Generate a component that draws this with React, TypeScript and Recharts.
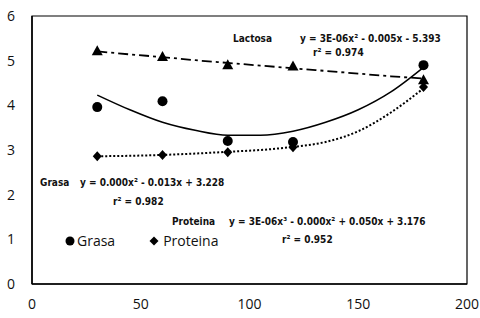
import React from 'react';
import {
  ComposedChart, Scatter, Line, XAxis, YAxis, ReferenceArea,
} from 'recharts';

// days of storage
const days = [30, 60, 90, 120, 180];

// measured values (%)
const grasa = [3.96, 4.09, 3.2, 3.18, 4.9];
const proteina = [2.86, 2.89, 2.95, 3.06, 4.41];
const lactosa = [5.21, 5.08, 4.9, 4.87, 4.56];

// trend lines
const trendX = [30, 45, 60, 75, 90, 105, 120, 135, 150, 165, 180];
const grasaTrend = [4.23, 3.9, 3.62, 3.44, 3.33, 3.33, 3.42, 3.62, 3.9, 4.3, 4.85];
const proteinaTrend = [2.86, 2.87, 2.89, 2.92, 2.96, 3.0, 3.07, 3.18, 3.42, 3.84, 4.38];
const lactosaTrend = [5.21, 5.14, 5.08, 5.01, 4.95, 4.89, 4.83, 4.77, 4.71, 4.65, 4.6];

const xTicks = [0, 50, 100, 150, 200];
const yTicks = [0, 1, 2, 3, 4, 5, 6];

const toPoints = (xs: number[], ys: number[]) => xs.map((x, i) => ({ x, y: ys[i] }));

const noteStyle: React.CSSProperties = {
  position: 'absolute',
  fontFamily: '"DejaVu Sans Condensed", "DejaVu Sans", sans-serif',
  fontWeight: 'bold',
  fontSize: 10,
  color: '#111',
  whiteSpace: 'nowrap',
  lineHeight: '12px',
};

function Note({ left, top, children }: { left: number; top: number; children: React.ReactNode }) {
  return <div style={{ ...noteStyle, left, top }}>{children}</div>;
}

const Dot = (p: any) => <circle cx={p.cx} cy={p.cy} r={5} fill="#000" />;
const Diamond = (p: any) => (
  <polygon points={`${p.cx},${p.cy - 5} ${p.cx + 4.5},${p.cy} ${p.cx},${p.cy + 5} ${p.cx - 4.5},${p.cy}`} fill="#000" />
);
const Tri = (p: any) => (
  <polygon points={`${p.cx},${p.cy - 6} ${p.cx + 5.5},${p.cy + 4} ${p.cx - 5.5},${p.cy + 4}`} fill="#000" />
);

function LegendBox() {
  return (
    <div style={{ position: 'absolute', left: 65, top: 231, display: 'flex', alignItems: 'center', fontFamily: '"Open Sans", sans-serif', fontSize: 14, color: '#111' }}>
      <svg width={10} height={10} style={{ marginRight: 2 }}>
        <circle cx={5} cy={5} r={4.5} fill="#000" />
      </svg>
      <span>Grasa</span>
      <svg width={10} height={10} style={{ marginLeft: 34, marginRight: 4 }}>
        <polygon points="5,0.5 9.5,5 5,9.5 0.5,5" fill="#000" />
      </svg>
      <span>Proteina</span>
    </div>
  );
}

export default function App() {
  return (
    <div style={{ position: 'absolute', left: 0, top: 0, width: 480, height: 318, background: '#fff' }}>
      <ComposedChart width={480} height={318} margin={{ top: 16, right: 13, bottom: 0, left: 0 }}>
        <XAxis
          type="number"
          dataKey="x"
          domain={[0, 200]}
          ticks={xTicks}
          tickLine={false}
          axisLine={{ stroke: '#000', strokeWidth: 1.5 }}
          height={34}
          tickMargin={9}
          tick={{ fill: '#111', fontSize: 14, fontFamily: '"Open Sans", sans-serif' }}
        />
        <YAxis
          type="number"
          dataKey="y"
          domain={[0, 6]}
          ticks={yTicks}
          tickLine={false}
          axisLine={{ stroke: '#000', strokeWidth: 1.5 }}
          width={32}
          tickMargin={11}
          tick={{ fill: '#111', fontSize: 14, fontFamily: '"Open Sans", sans-serif' }}
        />
        <ReferenceArea x1={0} x2={200} y1={0} y2={6} fill="none" stroke="#000" strokeWidth={1.2} />
        <Line data={toPoints(trendX, grasaTrend)} dataKey="y" type="monotone" stroke="#000" strokeWidth={1.5} dot={false} isAnimationActive={false} />
        <Line data={toPoints(trendX, proteinaTrend)} dataKey="y" type="monotone" stroke="#000" strokeWidth={2} strokeDasharray="2 2" dot={false} isAnimationActive={false} />
        <Line data={toPoints(trendX, lactosaTrend)} dataKey="y" type="monotone" stroke="#000" strokeWidth={1.8} strokeDasharray="10 4 3 4" dot={false} isAnimationActive={false} />
        <Scatter name="Grasa" data={toPoints(days, grasa)} shape={Dot} isAnimationActive={false} />
        <Scatter name="Proteina" data={toPoints(days, proteina)} shape={Diamond} isAnimationActive={false} />
        <Scatter name="Lactosa" data={toPoints(days, lactosa)} shape={Tri} isAnimationActive={false} />
      </ComposedChart>
      <LegendBox />
      <Note left={233} top={33}>Lactosa</Note>
      <Note left={300} top={33}>y = 3E-06x² - 0.005x - 5.393</Note>
      <Note left={313} top={47}>r² = 0.974</Note>
      <Note left={40} top={177}>Grasa</Note>
      <Note left={80} top={177}>y = 0.000x² - 0.013x + 3.228</Note>
      <Note left={113} top={196}>r² = 0.982</Note>
      <Note left={172} top={216}>Proteina</Note>
      <Note left={229} top={216}>y = 3E-06x³ - 0.000x² + 0.050x + 3.176</Note>
      <Note left={282} top={234}>r² = 0.952</Note>
    </div>
  );
}
